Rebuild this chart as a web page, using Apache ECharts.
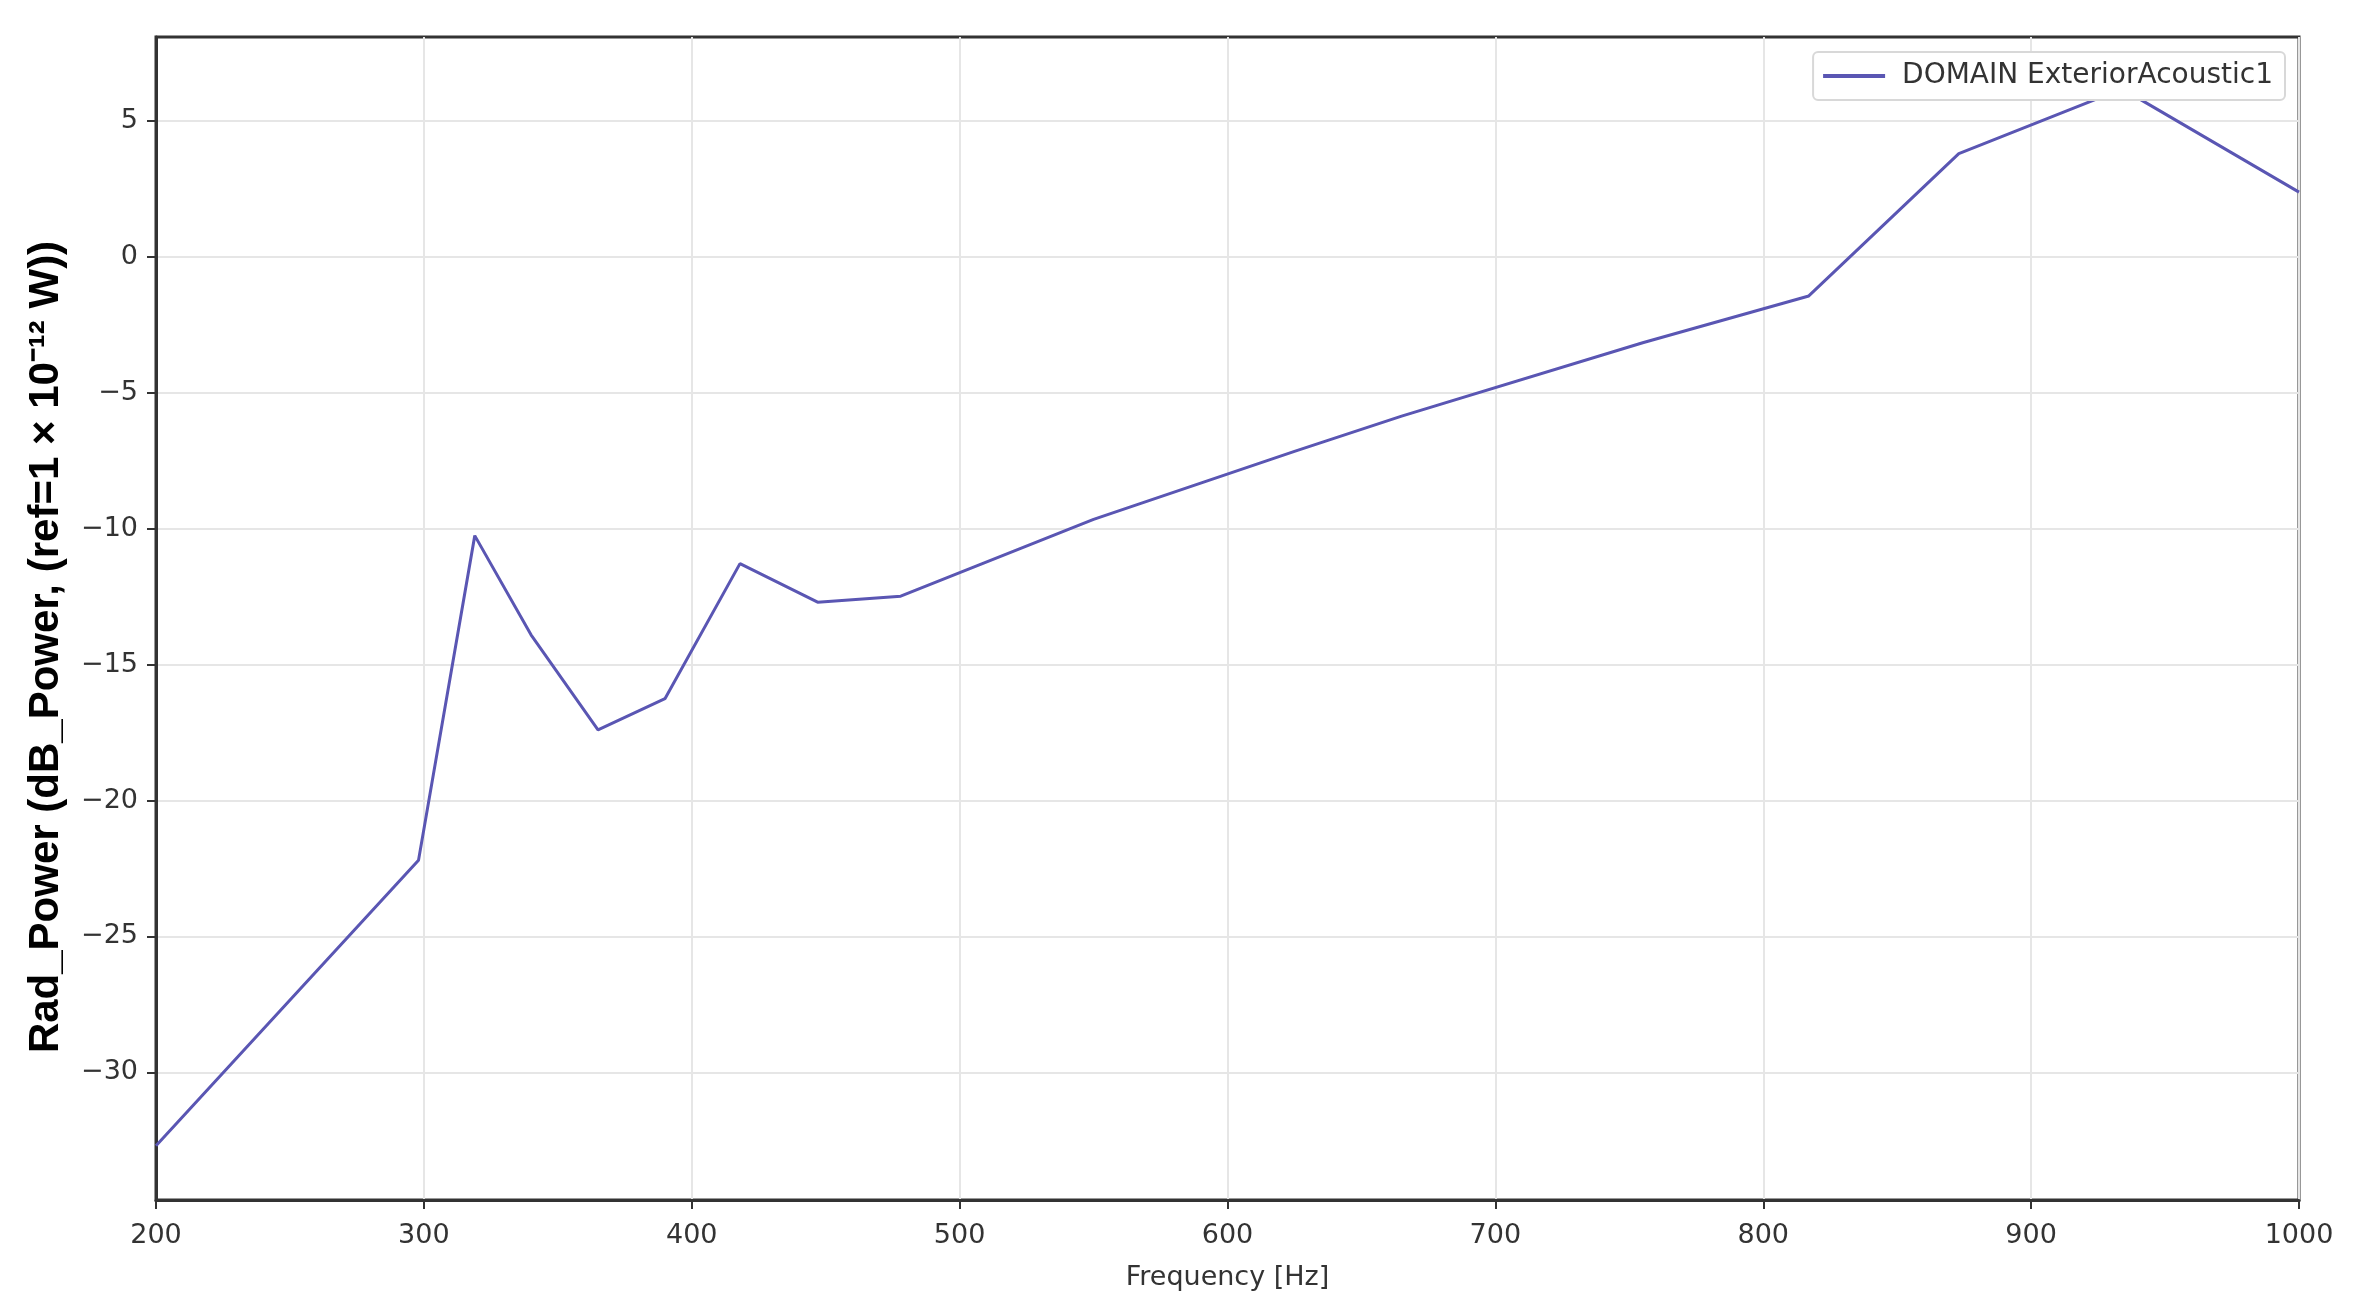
<!DOCTYPE html>
<html>
<head>
<meta charset="utf-8">
<script src="https://cdn.jsdelivr.net/npm/echarts@6/dist/echarts.min.js"></script>
<style>
  html, body { margin: 0; padding: 0; background: #ffffff; }
  #chart { width: 2353px; height: 1310px; }
</style>
</head>
<body>
<div id="chart"></div>
<script>
// Frequency values (Hz)
const frequencies = [200, 298, 319, 340, 365, 390, 418, 447, 478, 550, 625, 665, 755, 817, 873, 934, 1000];
// Radiated power (dB)
const radPower = [-32.7, -22.2, -10.25, -13.9, -17.4, -16.25, -11.28, -12.7, -12.48, -9.65, -7.15, -5.85, -3.15, -1.43, 3.81, 6.19, 2.39];
// Tick values
const yTicks = [-30, -25, -20, -15, -10, -5, 0, 5];
const seriesName = 'DOMAIN ExteriorAcoustic1';
const xTitle = 'Frequency [Hz]';
const yTitle = 'Rad_Power (dB_Power, (ref=1 × 10⁻¹² W))';

const chart = echarts.init(document.getElementById('chart'), null, { renderer: 'canvas' });
const tickFont = 'DejaVu Sans';
const axisColor = '#333333';
const lineColor = '#5a56b3';

chart.setOption({
  backgroundColor: '#ffffff',
  animation: false,
  grid: {
    left: 156, right: 54, top: 37, bottom: 110,
    show: true, borderColor: axisColor, borderWidth: 3, backgroundColor: 'transparent'
  },
  legend: {
    right: 68, top: 52,
    padding: [10, 12, 10, 10],
    backgroundColor: '#ffffff',
    borderColor: '#d8d8d8', borderWidth: 2, borderRadius: 5,
    itemWidth: 62, itemHeight: 4,
    textStyle: { fontFamily: tickFont, fontSize: 28, color: '#333333', padding: [0, 0, 0, 12] },
    data: [{ name: seriesName, icon: 'rect', itemStyle: { color: lineColor } }]
  },
  xAxis: {
    type: 'value', min: 200, max: 1000, interval: 100,
    name: xTitle, nameLocation: 'middle', nameGap: 64,
    nameTextStyle: { fontFamily: tickFont, fontSize: 27, color: '#333333' },
    axisLine: { show: true, onZero: false, lineStyle: { color: axisColor, width: 3 } },
    axisTick: { show: true, inside: false, length: 9, lineStyle: { color: axisColor, width: 2 } },
    axisLabel: { margin: 22, fontFamily: tickFont, fontSize: 27, color: '#333333', formatter: v => String(v) },
    splitLine: { show: true, lineStyle: { color: '#e6e6e6', width: 2 } }
  },
  yAxis: {
    type: 'value', min: -34.7, max: 8.1,
    axisLine: { show: true, onZero: false, lineStyle: { color: axisColor, width: 3 } },
    axisTick: { show: true, inside: false, length: 9, customValues: yTicks, lineStyle: { color: axisColor, width: 2 } },
    axisLabel: {
      margin: 18, fontFamily: tickFont, fontSize: 27, color: '#333333',
      customValues: yTicks,
      formatter: v => (v < 0 ? '\u2212' + Math.abs(v) : String(v))
    },
    splitLine: { show: true, lineStyle: { color: '#e6e6e6', width: 2 } }
  },
  graphic: [{
    type: 'text',
    x: 46, y: 647,
    rotation: Math.PI / 2,
    style: {
      text: yTitle,
      font: 'bold 42px "Liberation Sans", Arial, sans-serif',
      fill: '#000000',
      textAlign: 'center',
      textVerticalAlign: 'middle'
    }
  }],
  series: [{
    name: seriesName,
    type: 'line',
    data: frequencies.map((f, i) => [f, radPower[i]]),
    symbol: 'none',
    showSymbol: false,
    lineStyle: { color: lineColor, width: 3 },
    itemStyle: { color: lineColor },
    clip: true
  }]
});
</script>
</body>
</html>
